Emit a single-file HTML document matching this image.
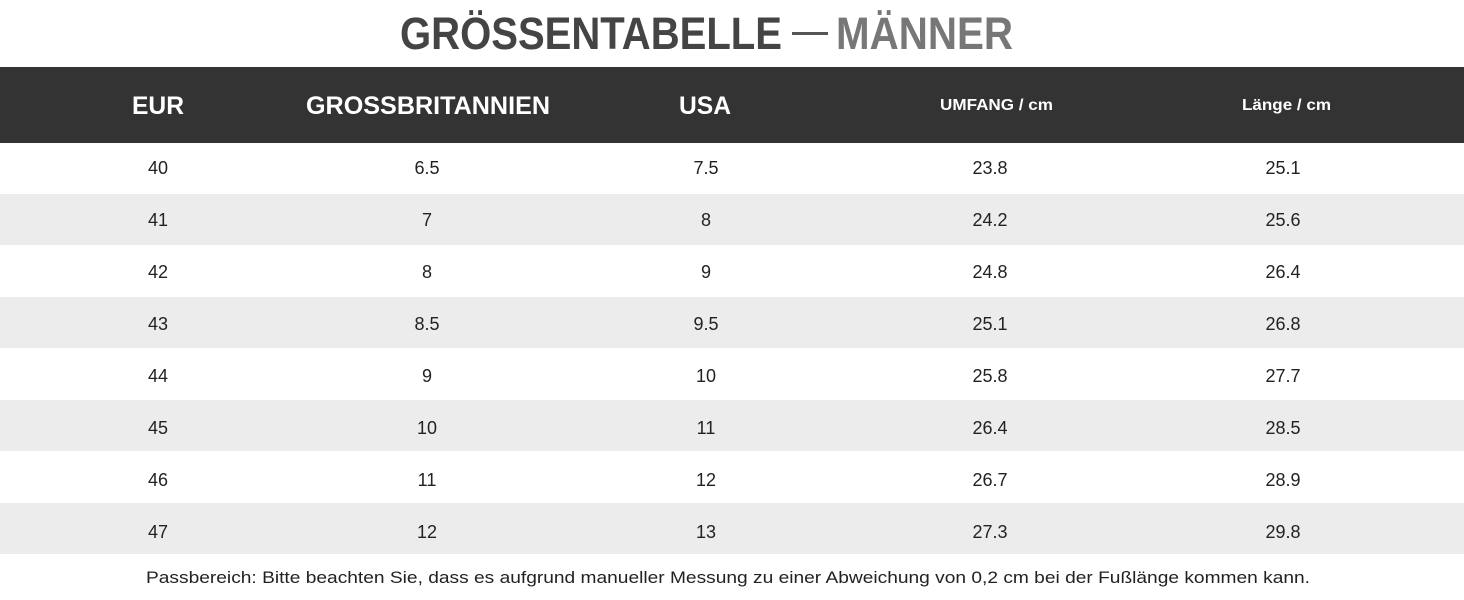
<!DOCTYPE html>
<html><head><meta charset="utf-8"><style>html,body{margin:0;padding:0;background:#fff}svg{display:block}</style></head>
<body>
<svg width="1464" height="600" viewBox="0 0 1464 600" xmlns="http://www.w3.org/2000/svg" font-family="Liberation Sans, sans-serif">
<rect width="1464" height="600" fill="#fff"/>
<text x="400" y="49" font-size="45" font-weight="bold" fill="#444" textLength="382" lengthAdjust="spacingAndGlyphs">GRÖSSENTABELLE</text>
<rect x="792" y="32" width="36" height="3" fill="#555"/>
<text x="836" y="49" font-size="45" font-weight="bold" fill="#777" textLength="177" lengthAdjust="spacingAndGlyphs">MÄNNER</text>
<rect x="0" y="67" width="1464" height="76" fill="#333"/>
<g fill="#fff" font-weight="bold">
<text x="132" y="114" font-size="25" textLength="52" lengthAdjust="spacingAndGlyphs">EUR</text>
<text x="306" y="114" font-size="25" textLength="244" lengthAdjust="spacingAndGlyphs">GROSSBRITANNIEN</text>
<text x="679" y="114" font-size="25" textLength="52" lengthAdjust="spacingAndGlyphs">USA</text>
<text x="940" y="110" font-size="16" textLength="113" lengthAdjust="spacingAndGlyphs">UMFANG / cm</text>
<text x="1242" y="110" font-size="16" textLength="89" lengthAdjust="spacingAndGlyphs">Länge / cm</text>
</g>
<g fill="#ececec">
<rect x="0" y="194" width="1464" height="51"/>
<rect x="0" y="297" width="1464" height="51"/>
<rect x="0" y="400" width="1464" height="51"/>
<rect x="0" y="503" width="1464" height="51"/>
</g>
<g fill="#222" font-size="18" text-anchor="middle">
<text x="158" y="174">40</text><text x="427" y="174">6.5</text><text x="706" y="174">7.5</text><text x="990" y="174">23.8</text><text x="1283" y="174">25.1</text>
<text x="158" y="226">41</text><text x="427" y="226">7</text><text x="706" y="226">8</text><text x="990" y="226">24.2</text><text x="1283" y="226">25.6</text>
<text x="158" y="278">42</text><text x="427" y="278">8</text><text x="706" y="278">9</text><text x="990" y="278">24.8</text><text x="1283" y="278">26.4</text>
<text x="158" y="330">43</text><text x="427" y="330">8.5</text><text x="706" y="330">9.5</text><text x="990" y="330">25.1</text><text x="1283" y="330">26.8</text>
<text x="158" y="382">44</text><text x="427" y="382">9</text><text x="706" y="382">10</text><text x="990" y="382">25.8</text><text x="1283" y="382">27.7</text>
<text x="158" y="434">45</text><text x="427" y="434">10</text><text x="706" y="434">11</text><text x="990" y="434">26.4</text><text x="1283" y="434">28.5</text>
<text x="158" y="486">46</text><text x="427" y="486">11</text><text x="706" y="486">12</text><text x="990" y="486">26.7</text><text x="1283" y="486">28.9</text>
<text x="158" y="538">47</text><text x="427" y="538">12</text><text x="706" y="538">13</text><text x="990" y="538">27.3</text><text x="1283" y="538">29.8</text>
</g>
<text x="146" y="583" font-size="17" fill="#222" textLength="1164" lengthAdjust="spacingAndGlyphs">Passbereich: Bitte beachten Sie, dass es aufgrund manueller Messung zu einer Abweichung von 0,2 cm bei der Fußlänge kommen kann.</text>
</svg>
</body></html>
